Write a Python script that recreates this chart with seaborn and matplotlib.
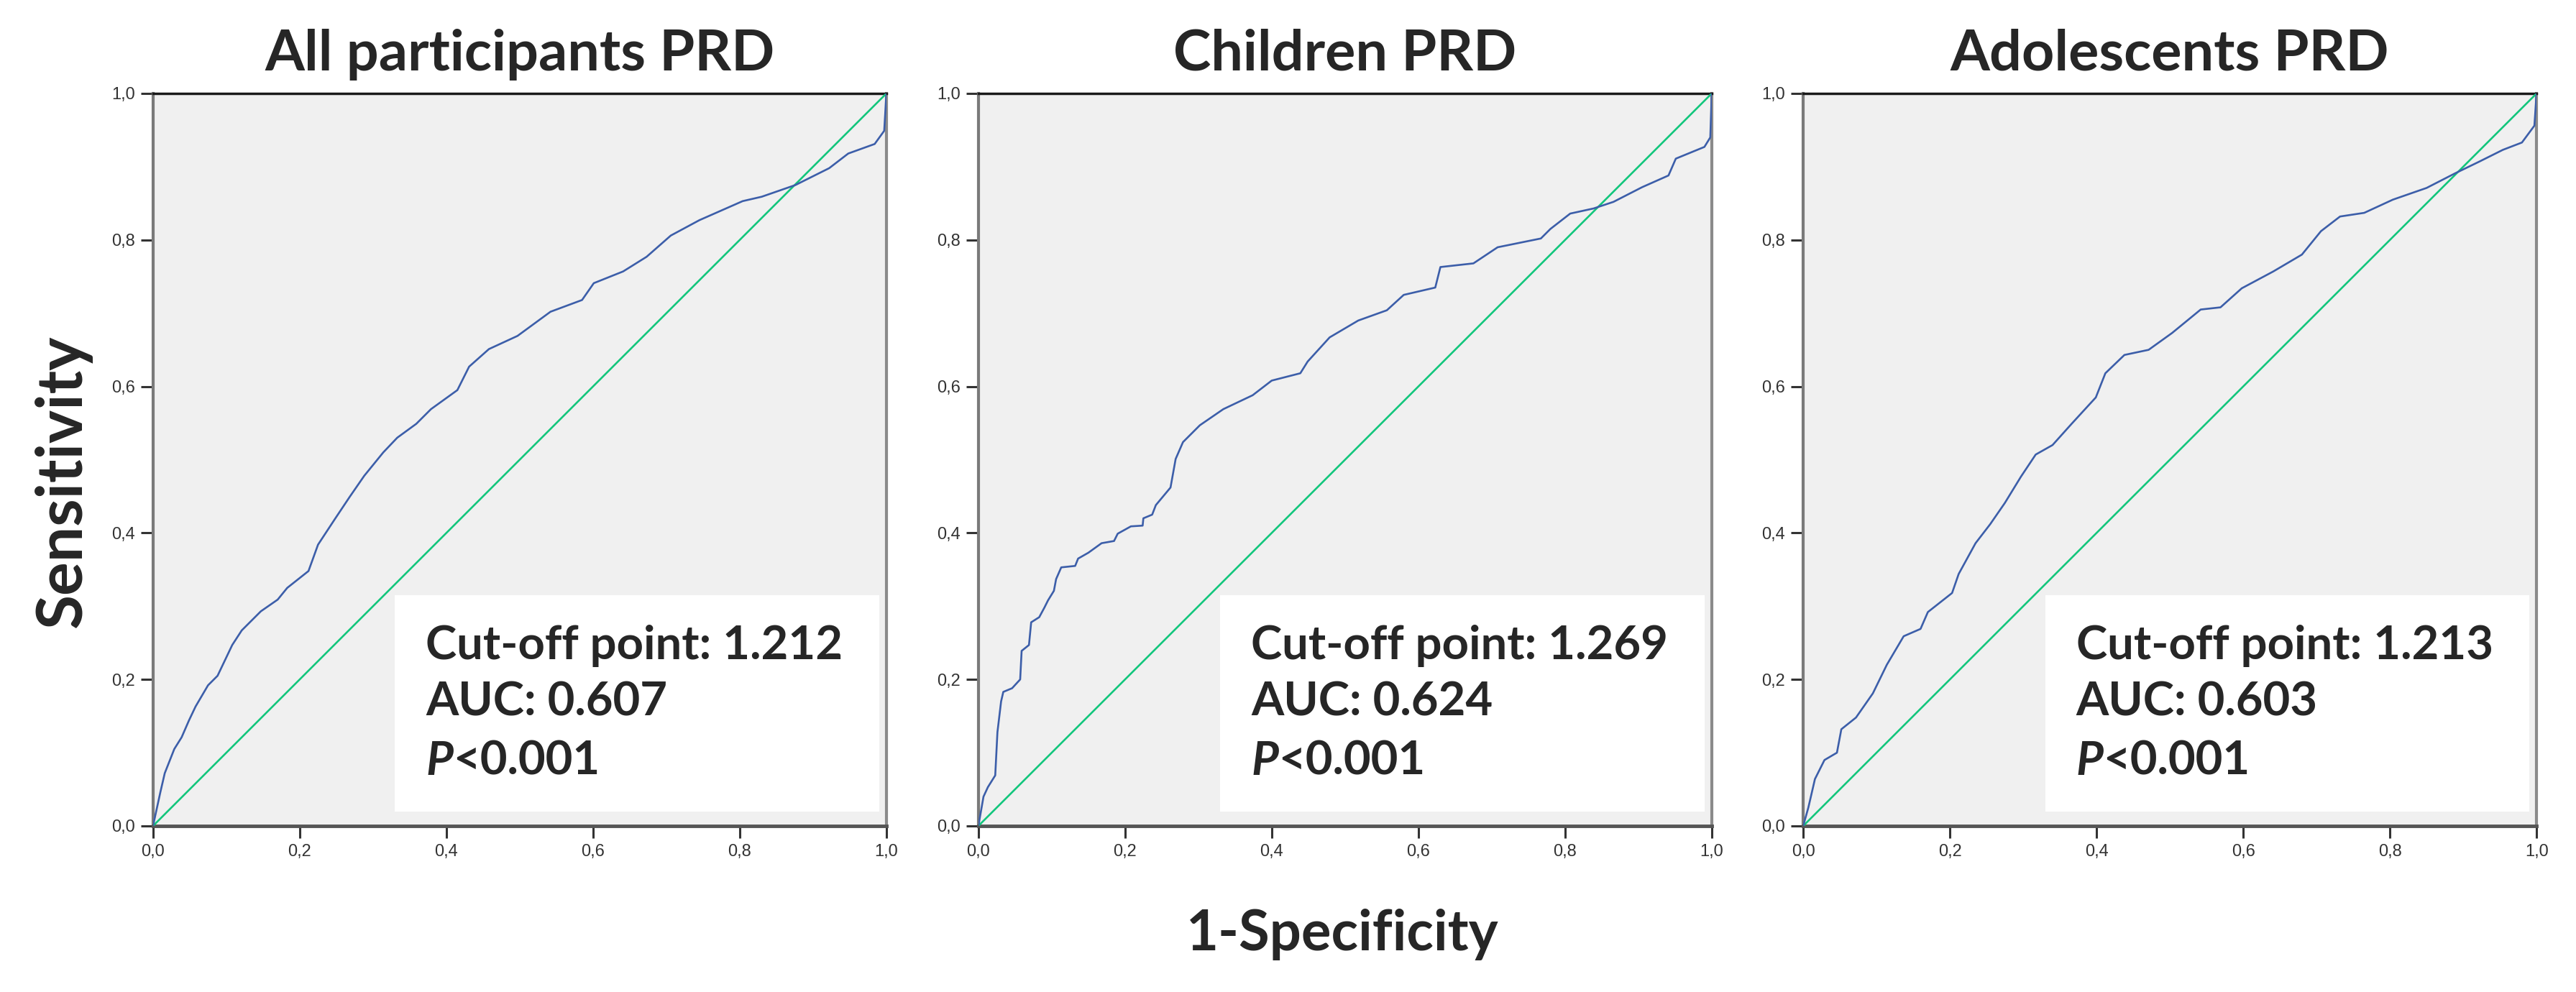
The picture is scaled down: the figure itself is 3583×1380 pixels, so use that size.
import numpy as np
import pandas as pd
import matplotlib
matplotlib.use("Agg")
import matplotlib.pyplot as plt
from matplotlib.patches import Rectangle
import seaborn as sns

# ROC curves (1-specificity, sensitivity)
all_fpr = [0.0, 0.01, 0.016, 0.029, 0.039, 0.049, 0.058, 0.075, 0.088, 0.108, 0.121, 0.147,
           0.17, 0.183, 0.212, 0.225, 0.248, 0.268, 0.288, 0.314, 0.333, 0.359, 0.379, 0.415,
           0.431, 0.458, 0.497, 0.542, 0.585, 0.601, 0.641, 0.673, 0.706, 0.745, 0.804, 0.83,
           0.876, 0.922, 0.948, 0.984, 0.997, 1.0]
all_tpr = [0.0, 0.046, 0.072, 0.105, 0.121, 0.144, 0.163, 0.192, 0.205, 0.247, 0.267, 0.293,
           0.309, 0.325, 0.348, 0.384, 0.419, 0.449, 0.478, 0.51, 0.53, 0.549, 0.569, 0.595,
           0.627, 0.651, 0.669, 0.702, 0.718, 0.741, 0.757, 0.777, 0.806, 0.827, 0.853, 0.859,
           0.875, 0.898, 0.918, 0.931, 0.949, 1.0]

child_fpr = [0.0, 0.003, 0.007, 0.013, 0.023, 0.026, 0.031, 0.034, 0.046, 0.057, 0.059, 0.069,
             0.072, 0.083, 0.09, 0.095, 0.103, 0.106, 0.113, 0.132, 0.136, 0.15, 0.168, 0.185,
             0.19, 0.208, 0.224, 0.225, 0.237, 0.242, 0.262, 0.269, 0.279, 0.302, 0.334, 0.374,
             0.4, 0.439, 0.449, 0.479, 0.518, 0.557, 0.58, 0.623, 0.63, 0.675, 0.708, 0.767,
             0.78, 0.807, 0.839, 0.866, 0.905, 0.941, 0.951, 0.99, 0.998, 1.0]
child_tpr = [0.0, 0.017, 0.04, 0.053, 0.069, 0.128, 0.17, 0.183, 0.188, 0.2, 0.239, 0.247,
             0.278, 0.285, 0.298, 0.308, 0.321, 0.337, 0.353, 0.355, 0.365, 0.373, 0.386, 0.389,
             0.399, 0.409, 0.41, 0.42, 0.425, 0.438, 0.462, 0.501, 0.524, 0.547, 0.569, 0.588,
             0.608, 0.618, 0.634, 0.667, 0.69, 0.704, 0.725, 0.735, 0.763, 0.768, 0.79, 0.802,
             0.815, 0.836, 0.843, 0.852, 0.872, 0.888, 0.911, 0.927, 0.94, 1.0]

adol_fpr = [0.0, 0.007, 0.016, 0.029, 0.046, 0.052, 0.072, 0.095, 0.114, 0.137, 0.16, 0.17,
            0.203, 0.212, 0.235, 0.255, 0.275, 0.297, 0.317, 0.34, 0.366, 0.399, 0.412, 0.438,
            0.471, 0.503, 0.542, 0.569, 0.598, 0.641, 0.68, 0.706, 0.732, 0.765, 0.804, 0.85,
            0.889, 0.922, 0.954, 0.98, 0.997, 1.0]
adol_tpr = [0.0, 0.025, 0.064, 0.09, 0.1, 0.132, 0.148, 0.181, 0.22, 0.259, 0.269, 0.292,
            0.318, 0.344, 0.386, 0.412, 0.441, 0.477, 0.507, 0.52, 0.549, 0.585, 0.618, 0.643,
            0.65, 0.673, 0.705, 0.708, 0.734, 0.757, 0.78, 0.812, 0.832, 0.837, 0.855, 0.871,
            0.891, 0.907, 0.923, 0.933, 0.956, 1.0]

titles = ["All participants PRD", "Children PRD", "Adolescents PRD"]
cutoffs = ["1.212", "1.269", "1.213"]
aucs = ["0.607", "0.624", "0.603"]
ticks = [0.0, 0.2, 0.4, 0.6, 0.8, 1.0]
tick_labels = ["0,0", "0,2", "0,4", "0,6", "0,8", "1,0"]

curves = [(all_fpr, all_tpr), (child_fpr, child_tpr), (adol_fpr, adol_tpr)]

sns.set_style("white")
plt.rcParams['font.family'] = ['Lato', 'DejaVu Sans']

fig = plt.figure(figsize=(35.83, 13.80), dpi=100)
lefts = [0.0594, 0.3798, 0.700]
blue = "#3c5ea9"
green = "#12c67c"
box_fs = 47

for i in range(3):
    ax = fig.add_axes([lefts[i], 0.1674, 0.2847, 0.7384])
    ax.set_facecolor("#f0f0f0")
    df = pd.DataFrame({"fpr": curves[i][0], "tpr": curves[i][1]})
    diag = pd.DataFrame({"x": [0, 1], "y": [0, 1]})
    sns.lineplot(data=diag, x="x", y="y", ax=ax, color=green, linewidth=1.9,
                 estimator=None, sort=False, zorder=3)
    sns.lineplot(data=df, x="fpr", y="tpr", ax=ax, color=blue, linewidth=1.9,
                 estimator=None, sort=False, zorder=4)
    ax.set_xlim(0, 1)
    ax.set_ylim(0, 1)
    ax.set_xlabel("")
    ax.set_ylabel("")
    ax.set_xticks(ticks)
    ax.set_yticks(ticks)
    ax.set_xticklabels(tick_labels, family=['Liberation Sans'], fontsize=17, color="#333333")
    ax.set_yticklabels(tick_labels, family=['Liberation Sans'], fontsize=17, color="#333333")
    ax.tick_params(axis='both', direction='out', length=12, width=2.2, color="#333333",
                   pad=6, bottom=True, left=True)
    ax.spines['top'].set_color("#1a1a1a")
    ax.spines['top'].set_linewidth(2.5)
    ax.spines['left'].set_color("#7a7a7a")
    ax.spines['left'].set_linewidth(3)
    ax.spines['bottom'].set_color("#555555")
    ax.spines['bottom'].set_linewidth(3.5)
    ax.spines['right'].set_color("#8a8a8a")
    ax.spines['right'].set_linewidth(3)

    # white annotation box with the cut-off, AUC and p-value
    ax.add_patch(Rectangle((0.33, 0.02), 0.66, 0.295, facecolor="white",
                           edgecolor="none", zorder=5))
    ax.text(0.372, 0.246, "Cut-off point: " + cutoffs[i], fontsize=box_fs, fontweight='bold',
            va='center', ha='left', zorder=6)
    ax.text(0.372, 0.169, "AUC: " + aucs[i], fontsize=box_fs, fontweight='bold',
            va='center', ha='left', zorder=6)
    ptxt = ax.text(0.372, 0.088, "P", fontsize=box_fs, fontweight='bold', style='italic',
                   va='center', ha='left', zorder=6)
    ax.annotate("<0.001", xy=(1.0, 0.5), xycoords=ptxt, fontsize=box_fs, fontweight='bold',
                va='center', ha='left', zorder=6)

    fig.text(lefts[i] + 0.2847 / 2, 0.945, titles[i], fontsize=57, fontweight='bold',
             ha='center', va='center')

fig.text(0.521, 0.058, "1-Specificity", fontsize=56, fontweight='bold', ha='center', va='center')
fig.text(0.0245, 0.515, "Sensitivity", fontsize=63, fontweight='bold', ha='center', va='center',
         rotation=90)

fig.savefig("out.png", dpi=100)
